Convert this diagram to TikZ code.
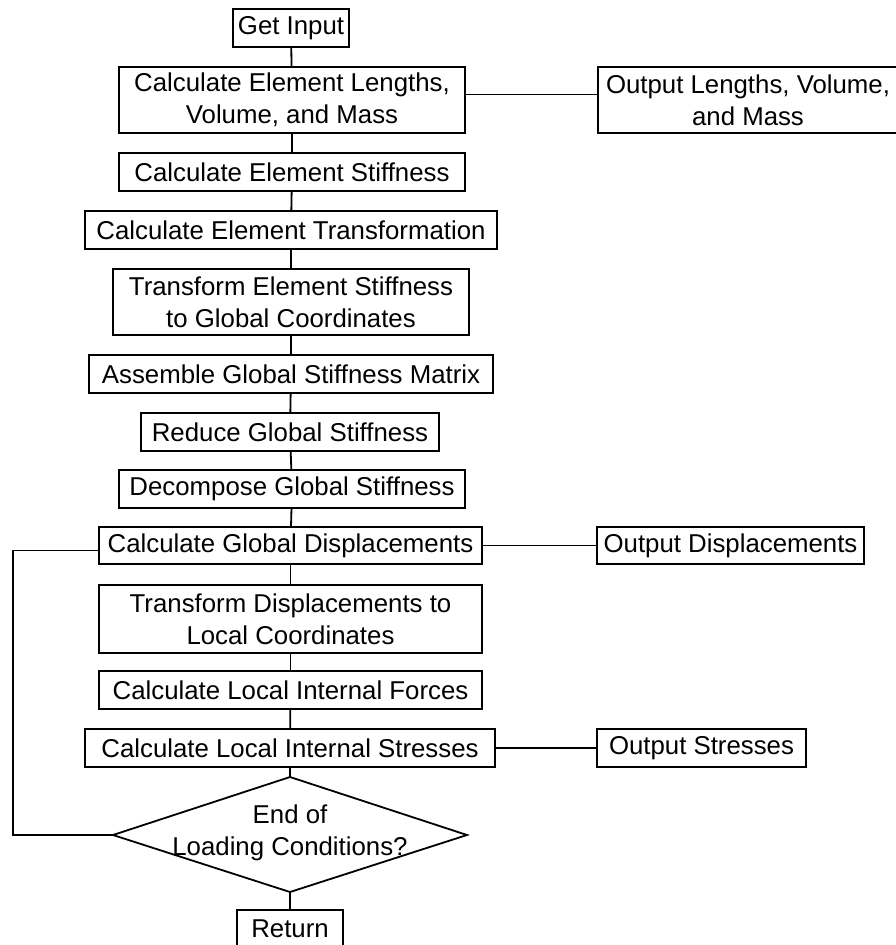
\documentclass[tikz,border=0pt]{standalone}
\usepackage{fontspec}
\setmainfont{Liberation Sans}
\begin{document}
\begin{tikzpicture}[x=1pt,y=-1pt,
  line width=1.8pt,
  every node/.style={font=\fontsize{25.8}{32}\selectfont, align=center, inner sep=0pt},
  procbox/.style={draw, minimum height=38pt},
  tallbox/.style={draw, minimum height=66pt},
  link/.style={draw, line width=1.8pt}]
\useasboundingbox (0,0) rectangle (895,945);

% main column of process steps
\node[procbox, minimum width=116pt] (gi) at (291,28) {Get Input};
\node[tallbox, minimum width=346pt] (len) at (292,100) {Calculate Element Lengths,\\Volume, and Mass};
\node[tallbox, minimum width=320pt] (outlen) at (758,100) {\hspace*{-20pt}Output Lengths, Volume,\\\hspace*{-20pt}and Mass};
\node[procbox, minimum width=346pt] (stiff) at (292,172) {Calculate Element Stiffness};
\node[procbox, minimum width=412pt] (trans) at (291,230) {Calculate Element Transformation};
\node[tallbox, minimum width=356pt] (tes) at (291,302) {Transform Element Stiffness\\to Global Coordinates};
\node[procbox, minimum width=404pt] (asm) at (291,374) {Assemble Global Stiffness Matrix};
\node[procbox, minimum width=298pt] (red) at (290,432) {Reduce Global Stiffness};
\node[procbox, minimum width=346pt] (dec) at (292,489) {Decompose Global Stiffness};
\node[procbox, minimum width=383pt, minimum height=37pt] (cgd) at (290.5,545.5) {Calculate Global Displacements};
\node[procbox, minimum width=267pt, minimum height=37pt] (od) at (730.5,545.5) {Output Displacements};
\node[draw, minimum width=383pt, minimum height=68pt] (tdl) at (290.5,619) {Transform Displacements to\\Local Coordinates};
\node[procbox, minimum width=383pt] (clf) at (290.5,690) {Calculate Local Internal Forces};
\node[procbox, minimum width=410pt] (cls) at (290,748) {Calculate Local Internal Stresses};
\node[procbox, minimum width=209pt] (os) at (701.5,748) {Output Stresses};

% decision
\node (endq) at (290,833) {End of\\Loading Conditions?};
\coordinate (dtop) at (290,777);
\coordinate (dright) at (467,835);
\coordinate (dbot) at (290,892);
\coordinate (dleft) at (113,835);
\draw (dtop) -- (dright) -- (dbot) -- (dleft) -- cycle;

\node[procbox, minimum width=106pt] (ret) at (290,929) {Return};

% vertical flow
\draw[link] (gi) -- (len);
\draw[link] (len) -- (stiff);
\draw[link] (stiff) -- (trans);
\draw[link] (trans) -- (tes);
\draw[link] (tes) -- (asm);
\draw[link] (asm) -- (red);
\draw[link] (red) -- (dec);
\draw[link] (dec) -- (cgd);
\draw[link] (cgd) -- (tdl);
\draw[link] (tdl) -- (clf);
\draw[link] (clf) -- (cls);
\draw[link] (cls.south) -- (dtop);
\draw[link] (dbot) -- (ret.north);

% side outputs
\draw[link] ([yshift=5.5pt]len.east) -- ([yshift=5.5pt]len.east -| outlen.west);
\draw[link] (cgd.east) -- (od.west);
\draw[link] (cls.east) -- (os.west);

% loop back for the next loading condition
\coordinate (lx) at (13,0);
\draw[link] (dleft) -- (dleft -| lx) -- ([yshift=-5pt]cgd.west -| lx) -- ([yshift=-5pt]cgd.west);
\end{tikzpicture}
\end{document}
